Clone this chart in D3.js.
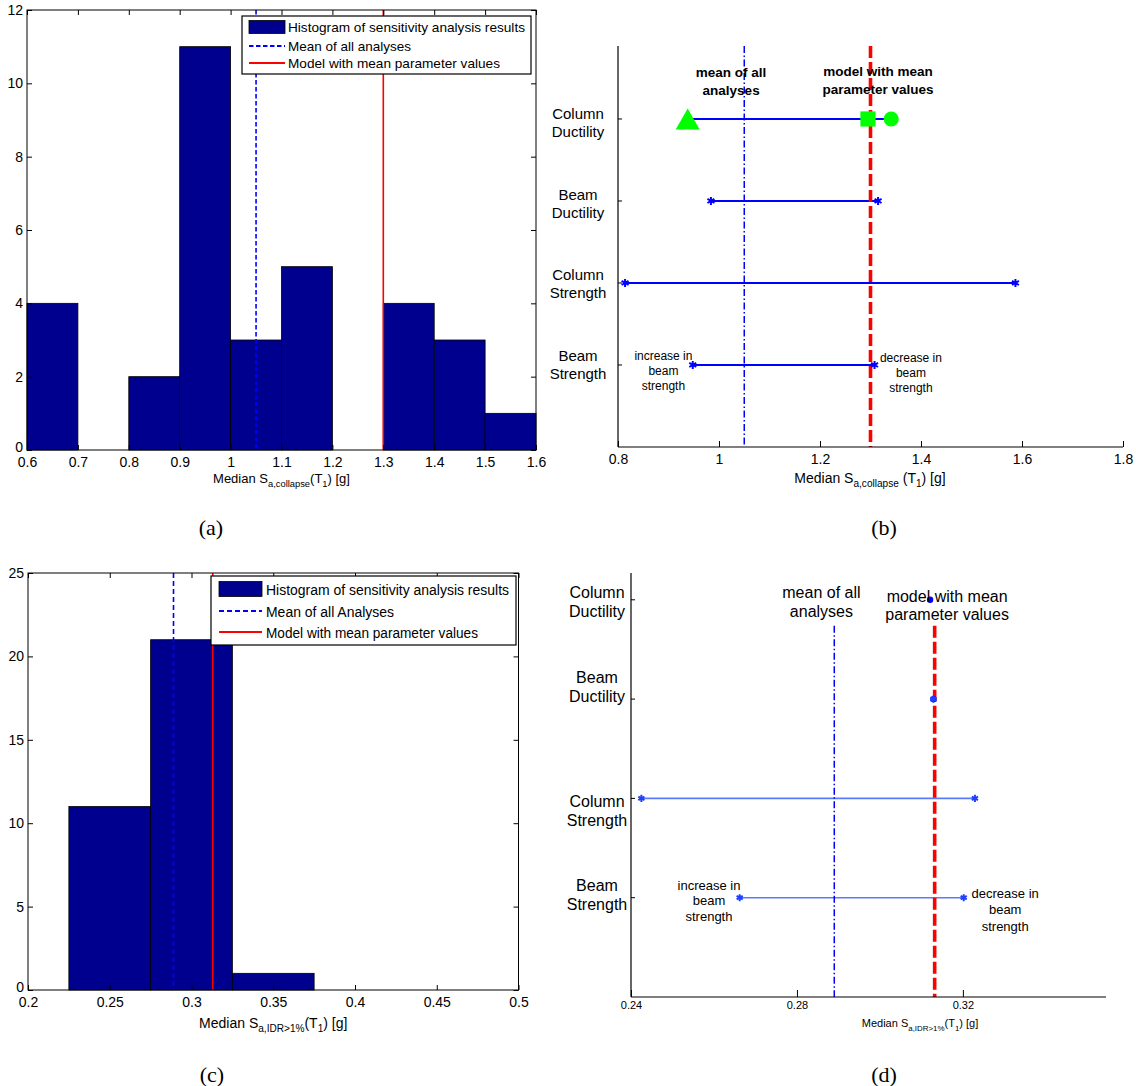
<!DOCTYPE html>
<html>
<head>
<meta charset="utf-8">
<script src="https://cdn.jsdelivr.net/npm/d3@7"></script>
<style>
  body { margin: 0; background: #fff; }
  svg { display: block; }
</style>
</head>
<body>
<svg id="fig" width="1136" height="1086"></svg>
<script>
// ---------- (a) histogram of median collapse capacity ----------
const collapseBinEdges = [0.6, 0.7, 0.8, 0.9, 1.0, 1.1, 1.2, 1.3, 1.4, 1.5, 1.6];
const collapseCounts   = [4, 0, 2, 11, 3, 5, 0, 4, 3, 1];
const collapseMean  = 1.05;
const collapseModel = 1.30;
const collapseXTicks = [0.6, 0.7, 0.8, 0.9, 1.0, 1.1, 1.2, 1.3, 1.4, 1.5, 1.6];
const collapseYTicks = [0, 2, 4, 6, 8, 10, 12];

// ---------- (c) histogram of median Sa at IDR > 1% ----------
const idrBinEdges = [0.225, 0.275, 0.325, 0.375];
const idrCounts   = [11, 21, 1];
const idrMean  = 0.289;
const idrModel = 0.313;
const idrXTicks = [0.2, 0.25, 0.3, 0.35, 0.4, 0.45, 0.5];
const idrYTicks = [0, 5, 10, 15, 20, 25];

// ---------- (b) / (d) tornado diagrams ----------
const parameterNames = ["Beam Strength", "Column Strength", "Beam Ductility", "Column Ductility"];
const collapseLow  = [0.948, 0.814, 0.984, 0.938];
const collapseHigh = [1.308, 1.587, 1.315, 1.341];
// column ductility cases shown with distinct markers
const columnDuctilityCases  = [0.938, 1.295, 1.341];
const columnDuctilityShapes = ["triangle", "square", "circle"];
const tornadoCollapseTicks = [0.8, 1.0, 1.2, 1.4, 1.6, 1.8];

const idrLow  = [0.2662, 0.2425, 0.3129, 0.3121];
const idrHigh = [0.3202, 0.3229, 0.3129, 0.3121];
const idrLowMark  = ["star", "star", "dot", "dot"];
const idrHighMark = ["star", "star", "star", "none"];
const tornadoIdrTicks = [0.24, 0.28, 0.32];

const legendLabelsA = ["Histogram of sensitivity analysis results", "Mean of all analyses", "Model with mean parameter values"];
const legendLabelsC = ["Histogram of sensitivity analysis results", "Mean of all Analyses", "Model with mean parameter values"];

// ---------- shared helpers ----------
const SANS  = '"Liberation Sans", Arial, Helvetica, sans-serif';
const SERIF = '"Liberation Serif", "Times New Roman", serif';
const NAVY  = "#00008f";
const fmt = d => String(+d.toFixed(3));

const svg = d3.select("#fig");
svg.append("rect").attr("width", 1136).attr("height", 1086).attr("fill", "#fff");

// label with subscripts: parts = [[text, isSub], ...]
function subText(g, x, y, size, parts) {
  const t = g.append("text")
    .attr("x", x).attr("y", y)
    .attr("font-family", SANS).attr("font-size", size)
    .attr("text-anchor", "middle").attr("fill", "#000");
  let off = 0;
  parts.forEach(([s, sub]) => {
    const target = sub ? size * 0.32 : 0;
    t.append("tspan")
      .attr("dy", target - off)
      .attr("font-size", sub ? size * 0.72 : size)
      .text(s);
    off = target;
  });
  return t;
}

function multiLine(g, x, y, lines, size, gap, opts = {}) {
  const t = g.append("text")
    .attr("x", x).attr("y", y)
    .attr("font-family", SANS).attr("font-size", size)
    .attr("font-weight", opts.bold ? "bold" : "normal")
    .attr("text-anchor", "middle")
    .attr("dominant-baseline", "central")
    .attr("fill", "#000");
  lines.forEach((s, i) => {
    t.append("tspan").attr("x", x).attr("dy", i === 0 ? 0 : gap).text(s);
  });
  return t;
}

function styleAxis(a, size) {
  a.select(".domain").remove();
  a.selectAll(".tick line").attr("stroke", "#000").attr("stroke-width", 1);
  a.selectAll(".tick text")
    .attr("font-family", SANS).attr("font-size", size).attr("fill", "#000");
  return a;
}

// ---------- histogram panel ----------
function histogram(cfg) {
  const g = svg.append("g");
  const x = d3.scaleLinear().domain(cfg.xDomain).range(cfg.xRange);
  const y = d3.scaleLinear().domain(cfg.yDomain).range(cfg.yRange);
  const [x0, x1] = cfg.xRange;
  const [y0, y1] = cfg.yRange;

  const bins = cfg.counts
    .map((c, i) => ({ lo: cfg.edges[i], hi: cfg.edges[i + 1], c }))
    .filter(b => b.c > 0);

  g.selectAll("rect.bar").data(bins).join("rect")
    .attr("class", "bar")
    .attr("x", d => x(d.lo))
    .attr("y", d => y(d.c))
    .attr("width", d => x(d.hi) - x(d.lo))
    .attr("height", d => y(0) - y(d.c))
    .attr("fill", NAVY)
    .attr("stroke", "#000")
    .attr("stroke-width", 0.8);

  g.append("line")
    .attr("x1", x(cfg.mean)).attr("x2", x(cfg.mean))
    .attr("y1", y1).attr("y2", y0)
    .attr("stroke", "#0000ff").attr("stroke-width", 1.6)
    .attr("stroke-dasharray", cfg.meanDash);
  g.append("line")
    .attr("x1", x(cfg.model)).attr("x2", x(cfg.model))
    .attr("y1", y1).attr("y2", y0)
    .attr("stroke", "#ff0000").attr("stroke-width", 1.6);

  styleAxis(g.append("g").attr("transform", `translate(0,${y0})`)
    .call(d3.axisBottom(x).tickValues(cfg.xTicks).tickFormat(fmt).tickSize(-5).tickPadding(cfg.xPad)), cfg.tickFont);
  styleAxis(g.append("g").attr("transform", `translate(0,${y1})`)
    .call(d3.axisTop(x).tickValues(cfg.xTicks).tickFormat("").tickSize(-5)), cfg.tickFont);
  const yAxis = styleAxis(g.append("g").attr("transform", `translate(${x0},0)`)
    .call(d3.axisLeft(y).tickValues(cfg.yTicks).tickFormat(fmt).tickSize(-5).tickPadding(cfg.yPad)), cfg.tickFont);
  // the zero label sits just above the x tick labels
  yAxis.selectAll(".tick text").filter(d => d === 0).attr("dy", "0.1em");
  styleAxis(g.append("g").attr("transform", `translate(${x1},0)`)
    .call(d3.axisRight(y).tickValues(cfg.yTicks).tickFormat("").tickSize(-5)), cfg.tickFont);

  g.append("rect")
    .attr("x", x0).attr("y", y1).attr("width", x1 - x0).attr("height", y0 - y1)
    .attr("fill", "none").attr("stroke", "#000").attr("stroke-width", 1);

  subText(g, (x0 + x1) / 2, cfg.xLabelY, cfg.xLabelFont, cfg.xLabel);

  // legend
  const L = cfg.legend;
  const lg = g.append("g");
  lg.append("rect").attr("x", L.x).attr("y", L.y).attr("width", L.w).attr("height", L.h)
    .attr("fill", "#fff").attr("stroke", "#000").attr("stroke-width", 1.2);
  const [sx0, sx1] = L.sample;
  lg.append("rect")
    .attr("x", sx0).attr("y", L.rows[0] - L.patchH / 2)
    .attr("width", sx1 - sx0).attr("height", L.patchH)
    .attr("fill", NAVY).attr("stroke", "#000").attr("stroke-width", 0.8);
  lg.append("line").attr("x1", sx0).attr("x2", sx1).attr("y1", L.rows[1]).attr("y2", L.rows[1])
    .attr("stroke", "#0000ff").attr("stroke-width", 1.8).attr("stroke-dasharray", cfg.meanDash);
  lg.append("line").attr("x1", sx0).attr("x2", sx1).attr("y1", L.rows[2]).attr("y2", L.rows[2])
    .attr("stroke", "#ff0000").attr("stroke-width", 1.8);
  cfg.legendLabels.forEach((s, i) => {
    const t = lg.append("text")
      .attr("x", L.textX).attr("y", L.rows[i])
      .attr("dominant-baseline", "central")
      .attr("font-family", SANS).attr("font-size", L.font).attr("fill", "#000")
      .text(s);
    if (L.lengths) t.attr("textLength", L.lengths[i]).attr("lengthAdjust", "spacingAndGlyphs");
  });
}

// ---------- tornado panel ----------
const asterisk = d3.symbol().type(d3.symbolAsterisk);
const bboxTriangle = {
  draw(ctx, size) {
    const s = Math.sqrt(size * 4 / Math.sqrt(3));
    const h = s * Math.sqrt(3) / 2;
    ctx.moveTo(0, -h / 2);
    ctx.lineTo(s / 2, h / 2);
    ctx.lineTo(-s / 2, h / 2);
    ctx.closePath();
  }
};

function tornado(cfg) {
  const g = svg.append("g");
  const x = d3.scaleLinear().domain(cfg.xDomain).range(cfg.xRange);
  const y = d3.scaleLinear().domain(cfg.yDomain).range(cfg.yRange);
  const [x0, x1] = cfg.xRange;
  const [y0, yTop] = cfg.yRange;

  const rows = cfg.names.map((n, i) => ({ name: n, pos: i + 1, lo: cfg.low[i], hi: cfg.high[i], i }));

  // parameter ranges
  g.selectAll("line.range").data(rows.filter(r => r.hi > r.lo)).join("line")
    .attr("class", "range")
    .attr("x1", d => x(d.lo)).attr("x2", d => x(d.hi))
    .attr("y1", d => y(d.pos)).attr("y2", d => y(d.pos))
    .attr("stroke", cfg.rangeColor).attr("stroke-width", cfg.rangeWidth);

  // reference lines
  g.append("line")
    .attr("x1", x(cfg.mean)).attr("x2", x(cfg.mean))
    .attr("y1", y(cfg.refTop)).attr("y2", y0)
    .attr("stroke", "#0000ff").attr("stroke-width", 1.5)
    .attr("stroke-dasharray", "7,2.5,1.5,2.5");
  g.append("line")
    .attr("x1", x(cfg.model)).attr("x2", x(cfg.model))
    .attr("y1", y(cfg.refTop)).attr("y2", y0)
    .attr("stroke", "#ff0000").attr("stroke-width", 3.6)
    .attr("stroke-dasharray", "12,4");

  // end markers
  const ends = [];
  rows.forEach(r => {
    ends.push({ v: r.lo, pos: r.pos, m: cfg.lowMark[r.i] });
    ends.push({ v: r.hi, pos: r.pos, m: cfg.highMark[r.i] });
  });
  g.selectAll("circle.dot").data(ends.filter(e => e.m === "dot")).join("circle")
    .attr("class", "dot")
    .attr("cx", d => x(d.v)).attr("cy", d => y(d.pos)).attr("r", 3.2)
    .attr("fill", "#0000ff");
  g.selectAll("path.star").data(ends.filter(e => e.m === "star")).join("path")
    .attr("class", "star")
    .attr("d", asterisk.size(cfg.starSize))
    .attr("transform", d => `translate(${x(d.v)},${y(d.pos)})`)
    .attr("fill", "none").attr("stroke", cfg.starColor).attr("stroke-width", 2);

  if (cfg.cases) {
    const shapeType = { triangle: bboxTriangle, square: d3.symbolSquare, circle: d3.symbolCircle };
    const shapeSize = { triangle: 250, square: 230, circle: 180 };
    const pos = cfg.cases.pos;
    g.selectAll("path.case").data(cfg.cases.values.map((v, i) => ({ v, s: cfg.cases.shapes[i] }))).join("path")
      .attr("class", "case")
      .attr("d", d => d3.symbol().type(shapeType[d.s]).size(shapeSize[d.s])())
      .attr("transform", d => `translate(${x(d.v)},${y(pos)})`)
      .attr("fill", "#00ff00");
  }

  // axes
  styleAxis(g.append("g").attr("transform", `translate(0,${y0})`)
    .call(d3.axisBottom(x).tickValues(cfg.xTicks).tickFormat(fmt).tickSize(-cfg.xTickLen).tickPadding(cfg.xPad)), cfg.tickFont);
  g.append("line").attr("x1", x0).attr("x2", x1).attr("y1", y0).attr("y2", y0)
    .attr("stroke", "#000").attr("stroke-width", 1.2);
  g.append("line").attr("x1", x0).attr("x2", x0).attr("y1", yTop).attr("y2", y0)
    .attr("stroke", "#000").attr("stroke-width", 1.2);
  g.selectAll("line.ytick").data(rows).join("line")
    .attr("class", "ytick")
    .attr("x1", x0).attr("x2", x0 + 4)
    .attr("y1", d => y(d.pos)).attr("y2", d => y(d.pos))
    .attr("stroke", "#000").attr("stroke-width", 1);

  // parameter labels
  rows.forEach(r => {
    multiLine(g, cfg.labelX, y(r.pos) + cfg.labelDy[r.i], r.name.split(" "), cfg.labelFont, cfg.labelGap);
  });

  // annotations
  cfg.notes.forEach(n => {
    multiLine(g, x(n.x), y(n.y), n.lines, n.size, n.gap, { bold: n.bold });
  });

  subText(g, cfg.xLabelX, cfg.xLabelY, cfg.xLabelFont, cfg.xLabel);
}

// ---------- draw panels ----------
histogram({
  xDomain: [0.6, 1.6], xRange: [27, 536],
  yDomain: [0, 12], yRange: [450, 10],
  edges: collapseBinEdges, counts: collapseCounts,
  mean: collapseMean, model: collapseModel,
  xTicks: collapseXTicks, yTicks: collapseYTicks,
  meanDash: "4.5,2.5",
  tickFont: 14, xPad: 7, yPad: 4,
  xLabel: [["Median S", 0], ["a,collapse", 1], ["(T", 0], ["1", 1], [") [g]", 0]],
  xLabelY: 483, xLabelFont: 13,
  legendLabels: legendLabelsA,
  legend: { x: 242, y: 16, w: 289, h: 58, rows: [27, 46, 63], sample: [249, 285], patchH: 13, textX: 288, font: 13.5, lengths: [237, 123, 212] }
});

histogram({
  xDomain: [0.2, 0.5], xRange: [28, 518.5],
  yDomain: [0, 25], yRange: [990, 573],
  edges: idrBinEdges, counts: idrCounts,
  mean: idrMean, model: idrModel,
  xTicks: idrXTicks, yTicks: idrYTicks,
  meanDash: "5,3",
  tickFont: 14, xPad: 7, yPad: 4,
  xLabel: [["Median S", 0], ["a,IDR>1%", 1], ["(T", 0], ["1", 1], [") [g]", 0]],
  xLabelY: 1028, xLabelFont: 14,
  legendLabels: legendLabelsC,
  legend: { x: 211, y: 576, w: 305, h: 69, rows: [589, 611, 632], sample: [219, 262], patchH: 15, textX: 266, font: 15.5, lengths: [243, 128, 212] }
});

tornado({
  xDomain: [0.8, 1.8], xRange: [618, 1123],
  yDomain: [0, 4.89], yRange: [447, 46],
  names: parameterNames, low: collapseLow, high: collapseHigh,
  lowMark: ["star", "star", "star", "none"], highMark: ["star", "star", "star", "none"],
  cases: { pos: 4, values: columnDuctilityCases, shapes: columnDuctilityShapes },
  mean: collapseMean, model: collapseModel, refTop: 4.89,
  rangeColor: "#0000ff", rangeWidth: 2, starColor: "#0000ff", starSize: 45,
  xTicks: tornadoCollapseTicks, xTickLen: 6, xPad: 7, tickFont: 14,
  labelX: 578, labelFont: 15, labelGap: 18, labelDy: [-10, -9, -7, -6],
  notes: [
    { lines: ["mean of all", "analyses"], x: 1.024, y: 4.57, size: 13.5, gap: 18, bold: true },
    { lines: ["model with mean", "parameter values"], x: 1.315, y: 4.59, size: 13.5, gap: 18, bold: true },
    { lines: ["increase in", "beam", "strength"], x: 0.890, y: 1.11, size: 12, gap: 15 },
    { lines: ["decrease in", "beam", "strength"], x: 1.380, y: 1.085, size: 12, gap: 15 }
  ],
  xLabel: [["Median S", 0], ["a,collapse", 1], [" (T", 0], ["1", 1], [") [g]", 0]],
  xLabelX: 870, xLabelY: 483, xLabelFont: 14
});

tornado({
  xDomain: [0.24, 0.3545], xRange: [631, 1106],
  yDomain: [0, 4.27], yRange: [997, 573],
  names: parameterNames, low: idrLow, high: idrHigh,
  lowMark: idrLowMark, highMark: idrHighMark,
  mean: idrMean, model: 0.3132, refTop: 3.74,
  rangeColor: "#5b7bff", rangeWidth: 1.6, starColor: "#2040ff", starSize: 35,
  xTicks: tornadoIdrTicks, xTickLen: 7, xPad: 4, tickFont: 11,
  labelX: 597, labelFont: 16, labelGap: 19, labelDy: [-13, 3, -22.6, -8],
  notes: [
    { lines: ["mean of all", "analyses"], x: 0.2859, y: 4.08, size: 16, gap: 19 },
    { lines: ["model with mean", "parameter values"], x: 0.3162, y: 4.04, size: 16, gap: 18 },
    { lines: ["increase in", "beam", "strength"], x: 0.2588, y: 1.128, size: 13, gap: 15.5 },
    { lines: ["decrease in", "beam", "strength"], x: 0.3302, y: 1.05, size: 13, gap: 16.5 }
  ],
  xLabel: [["Median S", 0], ["a,IDR>1%", 1], ["(T", 0], ["1", 1], [") [g]", 0]],
  xLabelX: 920, xLabelY: 1027, xLabelFont: 11
});

// ---------- panel captions ----------
const captions = ["(a)", "(b)", "(c)", "(d)"];
const captionAt = [[211, 527], [884, 527], [212, 1074], [884, 1074]];
captions.forEach((c, i) => {
  svg.append("text")
    .attr("x", captionAt[i][0]).attr("y", captionAt[i][1])
    .attr("text-anchor", "middle").attr("dominant-baseline", "central")
    .attr("font-family", SERIF).attr("font-size", 22).attr("fill", "#000")
    .text(c);
});
</script>
</body>
</html>
